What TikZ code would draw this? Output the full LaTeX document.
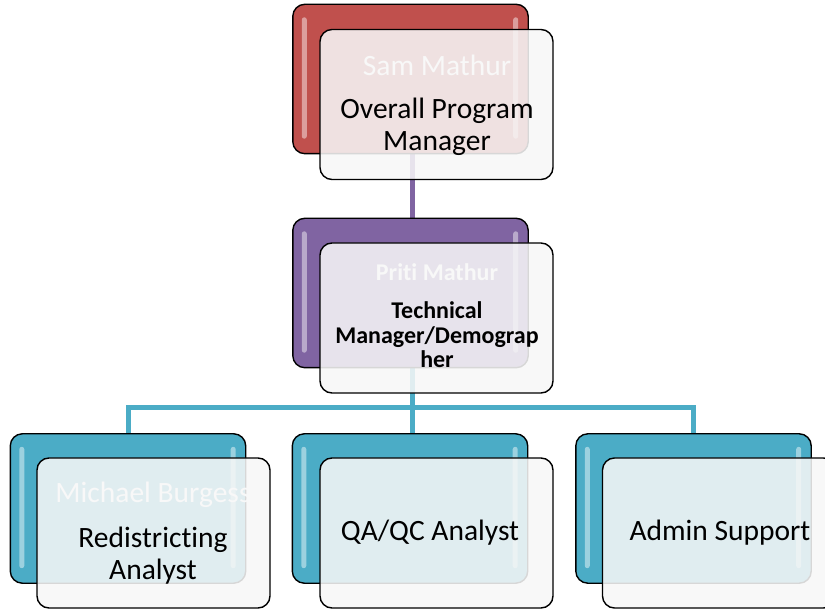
\documentclass[tikz,border=0pt]{standalone}
\usepackage{fontspec}
\setmainfont{Carlito}[RawFeature={-liga;-dlig;-clig}]
\usetikzlibrary{calc}
\definecolor{cred}{HTML}{C0504D}
\definecolor{cpurple}{HTML}{8064A2}
\definecolor{ccyan}{HTML}{4BACC6}
\begin{document}
\begin{tikzpicture}[x=1pt,y=-1pt,
  backbox/.style={draw=black, line width=1.4pt, rounded corners=12pt, minimum width=234pt, minimum height=148pt, inner sep=0pt},
  frontbox/.style={draw=black, line width=1.4pt, rounded corners=12pt, minimum width=233pt, minimum height=150pt, inner sep=0pt, fill=black!3, fill opacity=0.87, text opacity=1},
  nametext/.style={text=white, inner sep=0pt, font=\fontsize{29.5}{33}\selectfont},
  bnametext/.style={text=white, inner sep=0pt, font=\fontsize{24}{25}\bfseries\selectfont},
  titletext/.style={text=black, inner sep=0pt, align=center, font=\fontsize{29.5}{32}\selectfont},
  btitletext/.style={text=black, inner sep=0pt, align=center, font=\fontsize{24}{24.5}\bfseries\selectfont},
  gloss/.style={fill=white, opacity=0.45, rounded corners=2.5pt},
  conn/.style={line width=5pt}
]
\fill[white] (0,0) rectangle (825,609);
\useasboundingbox (0,0) rectangle (825,609);

% back boxes (positions only)
\path (410.5,79) node[backbox, fill=cred] (tb) {};
\path (410.5,293) node[backbox, fill=cpurple] (pb) {};
\path (128,508.5) node[backbox, fill=ccyan] (lb) {};
\path (410,508.5) node[backbox, fill=ccyan] (mb) {};
\path (693.5,508.5) node[backbox, fill=ccyan] (rb) {};

% connectors
\coordinate (bus) at (412,408);
\draw[conn, cpurple] ([xshift=1.5pt]tb.south) -- ([xshift=1.5pt]pb.north);
\draw[conn, ccyan] ([xshift=1.5pt]pb.south) -- (bus);
\draw[conn, ccyan] (lb.north) |- (bus) -| (rb.north);
\draw[conn, ccyan] (bus) -- ([xshift=2pt]mb.north);

% redraw back boxes over connectors
\foreach \n/\c in {tb/cred, pb/cpurple, lb/ccyan, mb/ccyan, rb/ccyan}{
  \draw[line width=1.4pt, rounded corners=12pt, fill=\c] (\n.north west) rectangle (\n.south east);
  \fill[gloss] ($(\n.north west)+(9,13)$) rectangle ($(\n.south west)+(14,-15)$);
  \fill[gloss] ($(\n.north east)+(-15,13)$) rectangle ($(\n.south east)+(-10,-15)$);
}

% names (white, behind front boxes)
\node[nametext] (n1) at (437,65) {Sam Mathur};
\node[bnametext] (n2) at (437,272) {Priti Mathur};
\node[nametext] (n3) at (153,495) {Michael Burgess};

% front boxes
\node[frontbox] (tf) at (436.5,104.5) {};
\node[frontbox] (pf) at (436.5,318) {};
\node[frontbox] (lf) at (153.5,533) {};
\node[frontbox] (mf) at (436.5,533) {};
\node[frontbox] (rf) at (719,533) {};

% titles
\node[titletext] (t1) at (437,127) {Overall Program\\Manager};
\node[btitletext] (t2) at (437,335) {Technical\\Manager/Demograp\\her};
\node[titletext] (t3) at (153,556) {Redistricting\\Analyst};
\node[titletext] (t4) at (430,533) {QA/QC Analyst};
\node[titletext] (t5) at (720,533) {Admin Support};
\end{tikzpicture}
\end{document}
